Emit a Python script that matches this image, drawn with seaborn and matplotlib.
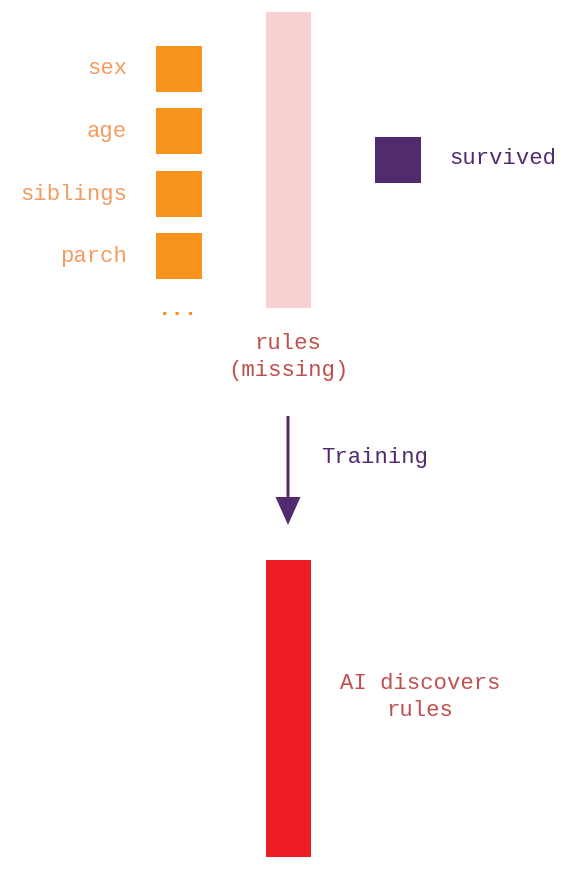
import matplotlib
matplotlib.use("Agg")
import matplotlib.pyplot as plt
import seaborn as sns
from matplotlib.patches import Rectangle, FancyArrow

sns.set_theme(style="white")
plt.rcParams['font.family'] = ['Liberation Mono', 'DejaVu Sans Mono']

# data
features = ["sex", "age", "siblings", "parch"]
feature_y = [69, 131, 194, 256]      # centre of each input square (px)
target = "survived"
middle_label = "rules\n(missing)"
arrow_label = "Training"
result_label = "AI discovers\nrules"

ORANGE = "#F7941D"
ORANGE_TXT = "#F39C60"
PINK = "#F9D0D2"
PURPLE = "#522A6E"
RED = "#ED1C24"
RULE_TXT = "#C0504D"

fig = plt.figure(figsize=(5.71, 8.71), dpi=100)
ax = fig.add_axes([0, 0, 1, 1])
ax.set_xlim(0, 571)
ax.set_ylim(871, 0)
ax.axis("off")

FS = 16
sq = 46
for name, yc in zip(features, feature_y):
    ax.add_patch(Rectangle((156, yc - sq / 2), sq, sq, color=ORANGE, lw=0))
    ax.text(127, yc, name, ha="right", va="center", color=ORANGE_TXT, fontsize=FS)
ax.text(178, 314, "\u00b7\u00b7\u00b7", ha="center", va="center", color=ORANGE,
        fontsize=FS, fontweight="bold")

# pink rules bar
ax.add_patch(Rectangle((266, 12), 45, 296, color=PINK, lw=0))
ax.text(288, 357, middle_label, ha="center", va="center", color=RULE_TXT,
        fontsize=FS, linespacing=1.35)

# target
ax.add_patch(Rectangle((375, 137), sq, sq, color=PURPLE, lw=0))
ax.text(449, 159, target, ha="left", va="center", color=PURPLE, fontsize=FS)

# arrow
ax.add_patch(FancyArrow(288, 416, 0, 109, width=3, head_width=25, head_length=28,
                        length_includes_head=True, color=PURPLE, lw=0))
ax.text(321, 457, arrow_label, ha="left", va="center", color=PURPLE, fontsize=FS)

# red bar
ax.add_patch(Rectangle((266, 560), 45, 297, color=RED, lw=0))
ax.text(420, 697, result_label, ha="center", va="center", color=RULE_TXT,
        fontsize=FS, linespacing=1.35)

fig.savefig("out.png", dpi=100, facecolor="white")
